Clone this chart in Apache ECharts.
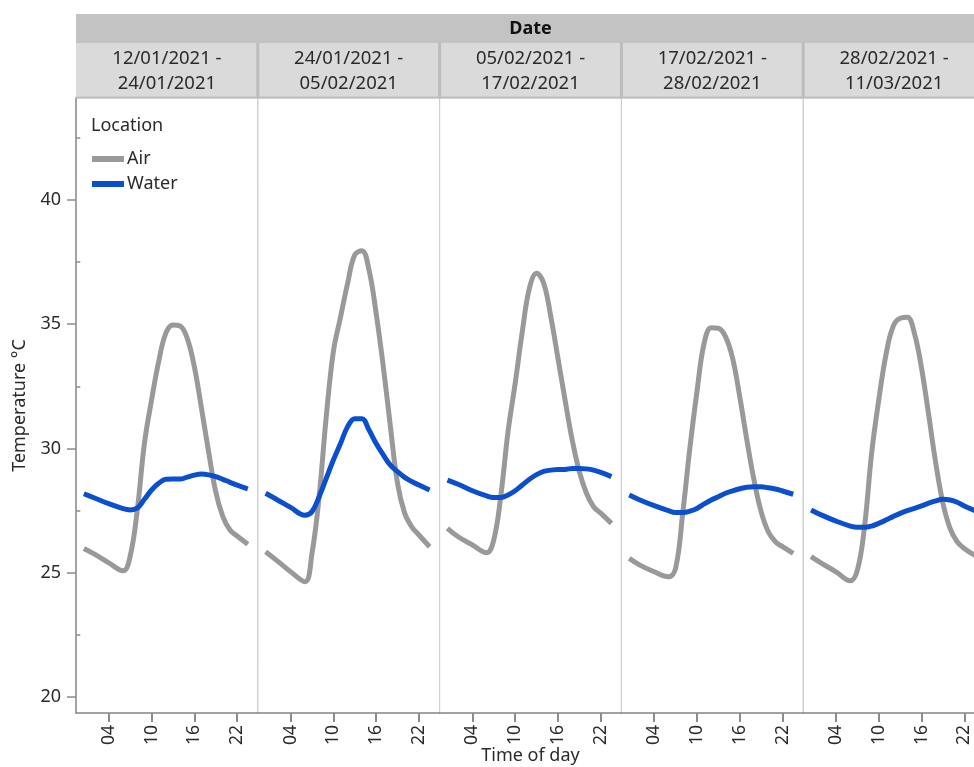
<!DOCTYPE html>
<html>
<head>
<meta charset="utf-8">
<script src="https://cdn.jsdelivr.net/npm/echarts@6/dist/echarts.min.js"></script>
<style>
  html, body { margin: 0; padding: 0; background: #ffffff; overflow: hidden; }
  #chart { width: 974px; height: 767px; }
</style>
</head>
<body>
<div id="chart"></div>
<script>
// ---------------- data ----------------
const hours = [0.5, 2, 4, 6, 7, 8, 9, 10, 11, 12, 13, 14, 15, 16, 17, 18, 19, 20, 21, 22, 23.5];

const rangeStart = ['12/01/2021 -', '24/01/2021 -', '05/02/2021 -', '17/02/2021 -', '28/02/2021 -'];
const rangeEnd   = ['24/01/2021', '05/02/2021', '17/02/2021', '28/02/2021', '11/03/2021'];

const air1 = [25.98, 25.75, 25.4, 25.08, 25.67, 27.53, 30.21, 31.95, 33.5, 34.64, 34.97, 34.93, 34.43, 33.29, 31.62, 29.87, 28.26, 27.26, 26.72, 26.48, 26.15];
const air2 = [25.85, 25.51, 25.04, 24.64, 25.78, 28.06, 31.28, 33.9, 35.28, 36.65, 37.79, 37.96, 37.18, 35.44, 33.3, 30.88, 28.6, 27.4, 26.85, 26.52, 26.05];
const air3 = [26.79, 26.45, 26.12, 25.81, 26.32, 28.13, 30.68, 32.62, 34.7, 36.45, 37.05, 36.65, 35.3, 33.63, 31.95, 30.34, 29.07, 28.2, 27.66, 27.4, 26.99];
const air4 = [25.58, 25.31, 25.04, 24.84, 25.18, 27.39, 30.01, 32.29, 34.23, 34.86, 34.84, 34.5, 33.63, 32.08, 30.34, 28.73, 27.46, 26.65, 26.25, 26.05, 25.78];
const air5 = [25.65, 25.38, 25.04, 24.68, 25.11, 26.85, 29.81, 31.95, 33.76, 34.9, 35.24, 35.28, 34.63, 33.23, 31.35, 29.4, 27.8, 26.79, 26.25, 25.98, 25.7];

const water1 = [28.18, 28.01, 27.78, 27.58, 27.53, 27.61, 27.96, 28.33, 28.6, 28.76, 28.77, 28.77, 28.85, 28.93, 28.97, 28.94, 28.87, 28.76, 28.64, 28.53, 28.38];
const water2 = [28.2, 27.96, 27.63, 27.32, 27.46, 28.06, 28.8, 29.54, 30.2, 30.88, 31.2, 31.2, 30.74, 30.2, 29.74, 29.33, 29.07, 28.84, 28.67, 28.53, 28.33];
const water3 = [28.73, 28.56, 28.3, 28.09, 28.03, 28.03, 28.13, 28.3, 28.53, 28.76, 28.95, 29.08, 29.13, 29.16, 29.16, 29.2, 29.2, 29.18, 29.13, 29.04, 28.87];
const water4 = [28.13, 27.93, 27.7, 27.5, 27.43, 27.43, 27.48, 27.59, 27.77, 27.93, 28.06, 28.2, 28.3, 28.38, 28.44, 28.46, 28.46, 28.42, 28.37, 28.29, 28.16];
const water5 = [27.53, 27.32, 27.08, 26.88, 26.83, 26.83, 26.88, 26.99, 27.12, 27.26, 27.39, 27.5, 27.59, 27.69, 27.8, 27.89, 27.96, 27.93, 27.84, 27.69, 27.5];

const xTickValues = [4, 10, 16, 22];
const yTickValues = [20, 25, 30, 35, 40];
const yMinorTickValues = [22.5, 27.5, 32.5, 37.5, 42.5];

const airSets = [air1, air2, air3, air4, air5];
const waterSets = [water1, water2, water3, water4, water5];

// ---------------- layout / style ----------------
const FONT = '"Noto Sans", "Open Sans", sans-serif';
const TEXT = '#2a2a2a';
const AXIS = '#8c8c8c';
const AIR_COLOR = '#999999';
const WATER_COLOR = '#0b4fcf';
const plotLeft = 76, panelW = 181.8, plotTop = 98, plotH = 615;
const nPanels = 5;

const grids = [], xAxes = [], yAxes = [], series = [], graphics = [];

for (let i = 0; i < nPanels; i++) {
  grids.push({
    left: plotLeft + i * panelW, top: plotTop, width: panelW, height: plotH,
    containLabel: false, outerBoundsMode: 'none',
    show: true, borderColor: '#cfcfcf', borderWidth: 1, backgroundColor: 'transparent'
  });
  xAxes.push({
    type: 'value', gridIndex: i, min: -0.6, max: 24.9,
    axisLine: { show: true, onZero: false, lineStyle: { color: AXIS, width: 1.5 } },
    axisTick: { show: true, customValues: xTickValues, length: 9, lineStyle: { color: AXIS, width: 2 } },
    axisLabel: {
      customValues: xTickValues, rotate: 90, margin: 12,
      formatter: v => String(v).padStart(2, '0'),
      fontSize: 17.5, color: TEXT, fontFamily: FONT
    },
    splitLine: { show: false },
    name: i === 2 ? 'Time of day' : '',
    nameLocation: 'middle', nameGap: 34, nameMoveOverlap: false,
    nameTextStyle: { fontSize: 18, color: TEXT, fontFamily: FONT }
  });
  yAxes.push({
    type: 'value', gridIndex: i, min: 19.36, max: 44.1,
    show: i === 0,
    axisLine: { show: true, onZero: false, lineStyle: { color: AXIS, width: 1.5 } },
    axisTick: { show: true, customValues: yTickValues, length: 9, lineStyle: { color: AXIS, width: 1.5 } },
    axisLabel: { customValues: yTickValues, margin: 15, fontSize: 18, color: TEXT, fontFamily: FONT },
    splitLine: { show: false },
    name: i === 0 ? 'Temperature °C' : '',
    nameLocation: 'middle', nameGap: 47,
    nameTextStyle: { fontSize: 18, color: TEXT, fontFamily: FONT }
  });
}
// minor ticks on the left axis
yAxes.push({
  type: 'value', gridIndex: 0, min: 19.36, max: 44.1, position: 'left',
  axisLine: { show: false },
  axisTick: { show: true, customValues: yMinorTickValues, length: 4, lineStyle: { color: AXIS, width: 1.5 } },
  axisLabel: { show: false },
  splitLine: { show: false }
});

for (let i = 0; i < nPanels; i++) {
  series.push({
    name: 'Air', type: 'line', xAxisIndex: i, yAxisIndex: i,
    data: hours.map((h, j) => [h, airSets[i][j]]),
    smooth: 0.4, showSymbol: false, symbol: 'none',
    lineStyle: { color: AIR_COLOR, width: 5 }, itemStyle: { color: AIR_COLOR },
    z: 2, animation: false
  });
  series.push({
    name: 'Water', type: 'line', xAxisIndex: i, yAxisIndex: i,
    data: hours.map((h, j) => [h, waterSets[i][j]]),
    smooth: 0.4, showSymbol: false, symbol: 'none',
    lineStyle: { color: WATER_COLOR, width: 5 }, itemStyle: { color: WATER_COLOR },
    z: 3, animation: false
  });
}

// header strips
const totalW = nPanels * panelW;
graphics.push({ type: 'rect', z: 10, shape: { x: plotLeft, y: 14, width: totalW, height: 29 }, style: { fill: '#c3c3c3' } });
graphics.push({ type: 'rect', z: 10, shape: { x: plotLeft, y: 43, width: totalW, height: 55 }, style: { fill: '#dadada' } });
graphics.push({ type: 'rect', z: 11, shape: { x: plotLeft, y: 96.5, width: totalW, height: 2 }, style: { fill: '#bdbdbd' } });
for (let i = 1; i < nPanels; i++) {
  graphics.push({ type: 'rect', z: 11, shape: { x: plotLeft + i * panelW - 1.5, y: 43, width: 3, height: 55 }, style: { fill: '#bcbcbc' } });
}
graphics.push({
  type: 'text', z: 12, x: plotLeft + totalW / 2, y: 28.5,
  style: { text: 'Date', fill: '#111', font: 'bold 18px ' + FONT, textAlign: 'center', textVerticalAlign: 'middle' }
});
for (let i = 0; i < nPanels; i++) {
  graphics.push({
    type: 'text', z: 12, x: plotLeft + (i + 0.5) * panelW, y: 71,
    style: {
      text: rangeStart[i] + '\n' + rangeEnd[i], fill: TEXT,
      font: '18.5px ' + FONT, lineHeight: 25, textAlign: 'center', textVerticalAlign: 'middle', align: 'center', verticalAlign: 'middle'
    }
  });
}

const option = {
  backgroundColor: '#ffffff',
  animation: false,
  title: {
    text: 'Location', left: 91, top: 117, padding: 0,
    textStyle: { fontSize: 18, fontWeight: 'normal', color: TEXT, fontFamily: FONT }
  },
  legend: {
    data: ['Air', 'Water'], orient: 'vertical', left: 92, top: 149, padding: 0,
    icon: 'rect', itemWidth: 32, itemHeight: 6, itemGap: 5,
    textStyle: { fontSize: 18, color: TEXT, fontFamily: FONT, lineHeight: 20, padding: [0, 0, 0, -2] }
  },
  grid: grids,
  xAxis: xAxes,
  yAxis: yAxes,
  series: series,
  graphic: graphics
};

const chart = echarts.init(document.getElementById('chart'), null, { renderer: 'canvas' });
chart.setOption(option);
</script>
</body>
</html>
